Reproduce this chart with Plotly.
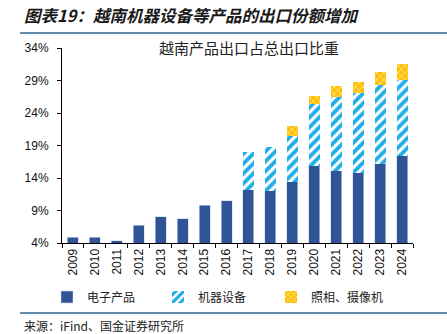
import plotly.graph_objects as go

years = [str(y) for y in range(2009, 2025)]
electronics = [4.9, 4.9, 4.35, 6.76, 8.03, 7.73, 9.83, 10.53, 12.18, 12.02, 13.45, 15.86, 15.09, 14.78, 16.16, 17.44]
machinery = [None, None, None, None, None, None, None, None, 5.87, 6.8, 6.95, 9.54, 11.35, 12.27, 12.12, 11.65]
camera = [None, None, None, None, None, None, None, None, None, None, 1.54, 1.24, 1.69, 1.79, 2.04, 2.41]
y_ticks = [4, 9, 14, 19, 24, 29, 34]

cjk = "Noto Sans CJK SC"
latin = "Liberation Sans, Arial"

W, H = 447, 334
L, R, T, B = 62, 34, 48, 91
PW, PH = W - L - R, H - T - B


def px(xp):
    return (xp - L) / PW


def py(yp):
    return (H - B - yp) / PH


fig = go.Figure()
fig.add_trace(go.Bar(x=years, y=electronics, name="电子产品", legend="legend",
                     marker=dict(color="#2F5597", line=dict(width=0.6, color="#C9D6EE")),
                     width=0.5))
fig.add_trace(go.Bar(x=years, y=machinery, name="机器设备", legend="legend2",
                     marker=dict(color="#FFFFFF", line=dict(width=0),
                                 pattern=dict(shape="/", fgcolor="#1EAEE8", bgcolor="#FFFFFF",
                                              size=7, solidity=0.55, fillmode="replace")),
                     width=0.5))
fig.add_trace(go.Bar(x=years, y=camera, name="照相、摄像机", legend="legend3",
                     marker=dict(color="#FFC000", line=dict(width=0),
                                 pattern=dict(shape="x", fgcolor="#FFE8A0", bgcolor="#FFC000",
                                              size=5, solidity=0.3, fillmode="replace")),
                     width=0.5))

leg_common = dict(orientation="h", xref="container", yref="container",
                  yanchor="middle", xanchor="left", y=(H - 297) / H, itemwidth=30,
                  font=dict(family=cjk, size=12, color="#222222"),
                  bgcolor="rgba(0,0,0,0)")

fig.update_layout(
    template="none",
    barmode="stack",
    width=W, height=H,
    margin=dict(l=L, r=R, t=T, b=B, autoexpand=False),
    paper_bgcolor="white", plot_bgcolor="white",
    showlegend=True,
    legend=dict(x=47 / W, **leg_common),
    legend2=dict(x=158 / W, **leg_common),
    legend3=dict(x=271 / W, **leg_common),
    xaxis=dict(type="category", showline=True, linecolor="#000000", linewidth=1,
               ticks="outside", ticklen=4, tickcolor="#000000", tickson="boundaries",
               tickangle=-90, tickfont=dict(family=latin, size=12, color="#111111"),
               showgrid=False, automargin=False),
    yaxis=dict(range=[4, 34], tickvals=y_ticks, ticktext=[f"{v}%" for v in y_ticks],
               showline=True, linecolor="#000000", linewidth=1,
               ticks="outside", ticklen=4, tickcolor="#000000",
               tickfont=dict(family=latin, size=12, color="#111111"),
               ticklabelstandoff=6, showgrid=False, zeroline=False, automargin=False),
)

fig.add_annotation(text="图表19：越南机器设备等产品的出口份额增加", xref="paper", yref="paper",
                   x=px(22), y=py(15), xanchor="left", yanchor="middle",
                   showarrow=False,
                   font=dict(family=cjk, size=16.5, color="#1A1A1A", weight="bold", style="italic"))
fig.add_annotation(text="越南产品出口占总出口比重", xref="paper", yref="paper",
                   x=px(249), y=py(47), xanchor="center", yanchor="middle",
                   showarrow=False, font=dict(family=cjk, size=15, color="#222222"))
fig.add_annotation(text="来源：iFind、国金证券研究所", xref="paper", yref="paper",
                   x=px(22), y=py(325), xanchor="left", yanchor="middle",
                   showarrow=False, font=dict(family=cjk, size=12, color="#222222"))

for yl in (33, 313):
    fig.add_shape(type="line", xref="paper", yref="paper",
                  x0=px(20), x1=px(447), y0=py(yl), y1=py(yl),
                  line=dict(color="#2E6493", width=1.5))

fig.write_html("out.html")
